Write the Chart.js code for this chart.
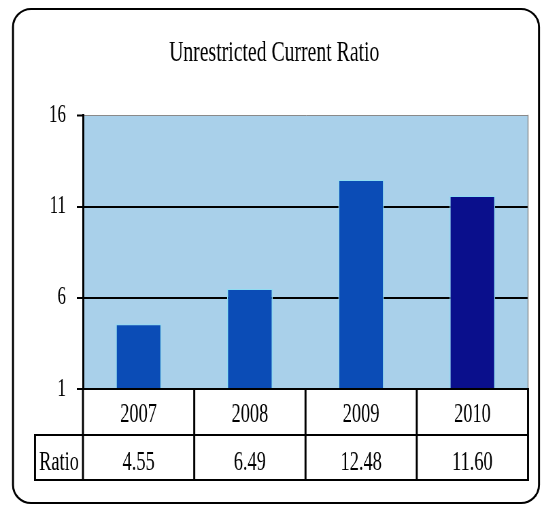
<!DOCTYPE html>
<html><head><meta charset="utf-8">
<script src="https://cdn.jsdelivr.net/npm/chart.js@4"></script>
<style>
html,body{margin:0;padding:0;background:#fff;overflow:hidden;width:541px;height:506px;}
#wrap{position:absolute;left:0;top:0;width:796px;height:506px;transform:scaleX(0.68);transform-origin:0 0;}
</style></head><body>
<div id="wrap"><canvas id="c"></canvas></div>
<script>
// ---- data ----
const titleText = 'Unrestricted Current Ratio';
const categories = ['2007', '2008', '2009', '2010'];
const ratioValues = [4.55, 6.49, 12.48, 11.60];
const ratioLabels = ['4.55', '6.49', '12.48', '11.60'];
const rowLabel = 'Ratio';
const yTicks = [1, 6, 11, 16];
const barColors = ['#0b4cb6', '#0b4cb6', '#0b4cb6', '#0a0f8c'];

// ---- styling helpers ----
const S = 0.68; // horizontal squash of the original picture
const SERIF = '"Liberation Serif", "Times New Roman", serif';

function hline(ctx, x1, x2, y, w) { ctx.fillRect(x1, y - w / 2, x2 - x1, w); }
function vline(ctx, x, y1, y2, w) { const ww = w / S; ctx.fillRect(x - ww / 2, y1 - 1, ww, y2 - y1 + 2); }

const decor = {
  id: 'decor',
  beforeDraw(chart) {
    const { ctx, chartArea: a } = chart;
    ctx.save();
    ctx.fillStyle = '#ffffff';
    ctx.fillRect(0, 0, chart.width, chart.height);
    ctx.fillStyle = '#a9d0ea';
    ctx.fillRect(a.left, a.top, a.right - a.left, a.bottom - a.top);
    ctx.restore();
  },
  afterDatasetsDraw(chart) {
    const { ctx, chartArea: a } = chart;
    ctx.save();
    ctx.fillStyle = '#8a8a8a';
    vline(ctx, a.right, a.top, a.bottom, 1);
    ctx.restore();
  },
  afterDraw(chart) {
    const { ctx, chartArea: a } = chart;
    const xs = chart.scales.x;
    const L = a.left, R = a.right;
    const y0 = a.bottom, y1 = y0 + 46, y2 = y1 + 45;
    const labelLeft = 35 / S;
    ctx.save();
    ctx.fillStyle = '#000';
    hline(ctx, L, R, y0, 2);
    hline(ctx, labelLeft, R, y1, 2);
    hline(ctx, labelLeft, R, y2, 2);
    for (let i = 0; i <= categories.length; i++) {
      vline(ctx, L + i * (R - L) / categories.length, y0, y2, 2);
    }
    vline(ctx, labelLeft, y1, y2, 2);
    ctx.font = '27px ' + SERIF;
    ctx.textAlign = 'center';
    ctx.textBaseline = 'alphabetic';
    categories.forEach((c, i) => ctx.fillText(c, xs.getPixelForValue(i), y0 + 32.5));
    ratioLabels.forEach((t, i) => ctx.fillText(t, xs.getPixelForValue(i), y1 + 34.5));
    ctx.fillText(rowLabel, (labelLeft + L) / 2, y1 + 34.5);
    // outer rounded frame
    ctx.scale(1 / S, 1);
    ctx.beginPath();
    const x = 13, y = 9, w = 526, h = 494, r = 18;
    ctx.moveTo(x + r, y);
    ctx.arcTo(x + w, y, x + w, y + h, r);
    ctx.arcTo(x + w, y + h, x, y + h, r);
    ctx.arcTo(x, y + h, x, y, r);
    ctx.arcTo(x, y, x + w, y, r);
    ctx.closePath();
    ctx.lineWidth = 2;
    ctx.strokeStyle = '#000';
    ctx.stroke();
    ctx.restore();
  }
};

new Chart(document.getElementById('c'), {
  type: 'bar',
  data: {
    labels: categories,
    datasets: [{
      label: rowLabel,
      data: ratioValues,
      backgroundColor: barColors,
      borderColor: '#8fdcf2',
      borderWidth: { left: 1.5, right: 1.5, top: 1, bottom: 0 },
      borderSkipped: false,
      barPercentage: 0.41,
      categoryPercentage: 1
    }]
  },
  options: {
    responsive: true,
    maintainAspectRatio: false,
    animation: false,
    layout: { padding: { top: 10, left: 30, right: 19.5, bottom: 117 } },
    plugins: {
      legend: { display: false },
      tooltip: { enabled: false },
      title: {
        display: true,
        text: titleText,
        color: '#000',
        font: { family: SERIF, size: 29, weight: 'normal' },
        padding: { top: 26, bottom: 45 }
      }
    },
    scales: {
      x: { display: false },
      y: {
        min: 1, max: 16,
        afterBuildTicks: (s) => { s.ticks = yTicks.map(v => ({ value: v })); },
        afterFit: (s) => { s.width = 92; },
        ticks: { color: '#000', font: { family: SERIF, size: 25 }, padding: 16 },
        grid: {
          color: (c) => (c.tick && c.tick.value === 16 ? '#8a8a8a' : '#000'),
          lineWidth: (c) => (c.tick && c.tick.value === 16 ? 1 : 2),
          drawTicks: true,
          tickLength: 9,
          tickColor: '#000',
          tickWidth: 2
        },
        border: { display: true, color: '#000', width: 3 }
      }
    }
  },
  plugins: [decor]
});
</script>
</body></html>
